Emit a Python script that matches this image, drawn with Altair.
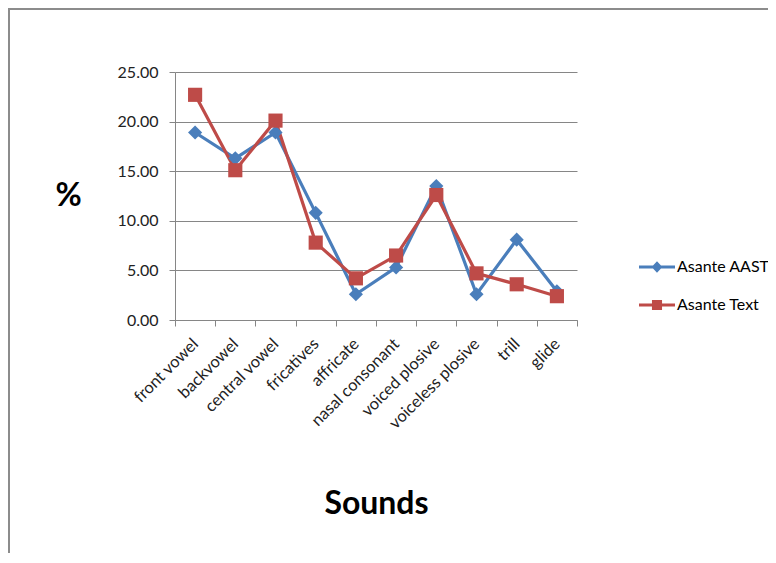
import altair as alt
import pandas as pd

categories = ["front vowel", "backvowel", "central vowel", "fricatives", "affricate",
              "nasal consonant", "voiced plosive", "voiceless plosive", "trill", "glide"]
aast = [18.9, 16.3, 18.9, 10.8, 2.6, 5.3, 13.5, 2.6, 8.1, 2.9]
text = [22.7, 15.1, 20.1, 7.8, 4.2, 6.5, 12.6, 4.7, 3.6, 2.4]
series = ["Asante AAST", "Asante Text"]
colors = ["#4A7EBB", "#BE4B48"]

rows = []
for c, a, t in zip(categories, aast, text):
    rows.append({"sound": c, "value": a, "series": series[0]})
    rows.append({"sound": c, "value": t, "series": series[1]})
df = pd.DataFrame(rows)

FONT = "Lato"
W, H = 402, 248
PAD_L, PAD_T = 167, 64
PAD_R = 760 - PAD_L - W
PAD_B = 545 - PAD_T - H

x_enc = alt.X("sound:N", sort=categories, bandPosition=0.5,
              scale=alt.Scale(type="band", paddingInner=0, paddingOuter=0),
              axis=alt.Axis(title="Sounds", labelAngle=-45, labelAlign="right",
                            labelBaseline="middle", labelFontSize=16.5, labelPadding=15,
                            labelColor="#222222", tickBand="extent", tickSize=6,
                            tickColor="#868686", domainColor="#868686", grid=False,
                            titleFontSize=32, titleFontWeight="bold", titleColor="#000000",
                            titleX=W / 2, titleY=183, titleBaseline="middle",
                            titleAnchor="middle"))
y_enc = alt.Y("value:Q",
              scale=alt.Scale(domain=[0, 25], nice=False),
              axis=alt.Axis(title="%", values=[0, 5, 10, 15, 20, 25], format=".2f",
                            labelFontSize=16, labelColor="#222222", labelPadding=11,
                            tickSize=6, tickColor="#868686", domainColor="#868686",
                            gridColor="#868686", gridWidth=1,
                            titleAngle=0, titleFontSize=32, titleFontWeight="bold",
                            titleColor="#000000", titleX=-107, titleY=123,
                            titleAlign="center", titleBaseline="middle"))
color_scale = alt.Scale(domain=series, range=colors)

base = alt.Chart(df)
lines = base.mark_line(strokeWidth=3.2).encode(
    x=x_enc, y=y_enc,
    color=alt.Color("series:N", scale=color_scale, legend=None))
points = base.mark_point(filled=True, opacity=1, size=200).encode(
    x=x_enc, y=y_enc,
    color=alt.Color("series:N", scale=color_scale, legend=None),
    shape=alt.Shape("series:N", scale=alt.Scale(domain=series, range=["diamond", "square"]),
                    legend=None))

diamond_line = "M-1,-0.08H1V0.08H-1Z M0,-0.32L0.3,0L0,0.32L-0.3,0Z"
square_line = "M-1,-0.08H1V0.08H-1Z M-0.28,-0.28H0.28V0.28H-0.28Z"
leg = dict(title=None, orient="none", legendX=464, legendY=177,
           symbolSize=1296, labelFontSize=16, labelColor="#000000",
           labelFont=FONT, rowPadding=12, labelOffset=2, symbolOpacity=1,
           padding=0, symbolStrokeWidth=0)
legend_layer = base.transform_filter("false").mark_point(filled=True, opacity=1).encode(
    x=x_enc, y=y_enc,
    color=alt.Color("series:N", scale=color_scale, legend=alt.Legend(**leg)),
    shape=alt.Shape("series:N", scale=alt.Scale(domain=series, range=[diamond_line, square_line]),
                    legend=alt.Legend(**leg)))

frame_df = pd.DataFrame({"k": [0]})
frame_top = alt.Chart(frame_df).mark_rule(color="#8c8c8c", strokeWidth=2).encode(
    x=alt.value(-PAD_L), x2=alt.value(W + PAD_R), y=alt.value(-PAD_T + 1))
frame_left = alt.Chart(frame_df).mark_rule(color="#8c8c8c", strokeWidth=2).encode(
    x=alt.value(-PAD_L + 1), y=alt.value(-PAD_T), y2=alt.value(H + PAD_B))

chart = alt.layer(lines, points, legend_layer, frame_top, frame_left).resolve_scale(
    color="independent", shape="independent"
).properties(
    width=W, height=H,
    autosize=alt.AutoSizeParams(type="none"),
    padding={"left": PAD_L, "top": PAD_T, "right": PAD_R, "bottom": PAD_B},
).configure(font=FONT, background="white").configure_view(stroke=None)

chart.save("out.html", embed_options={"renderer": "svg", "actions": False})
